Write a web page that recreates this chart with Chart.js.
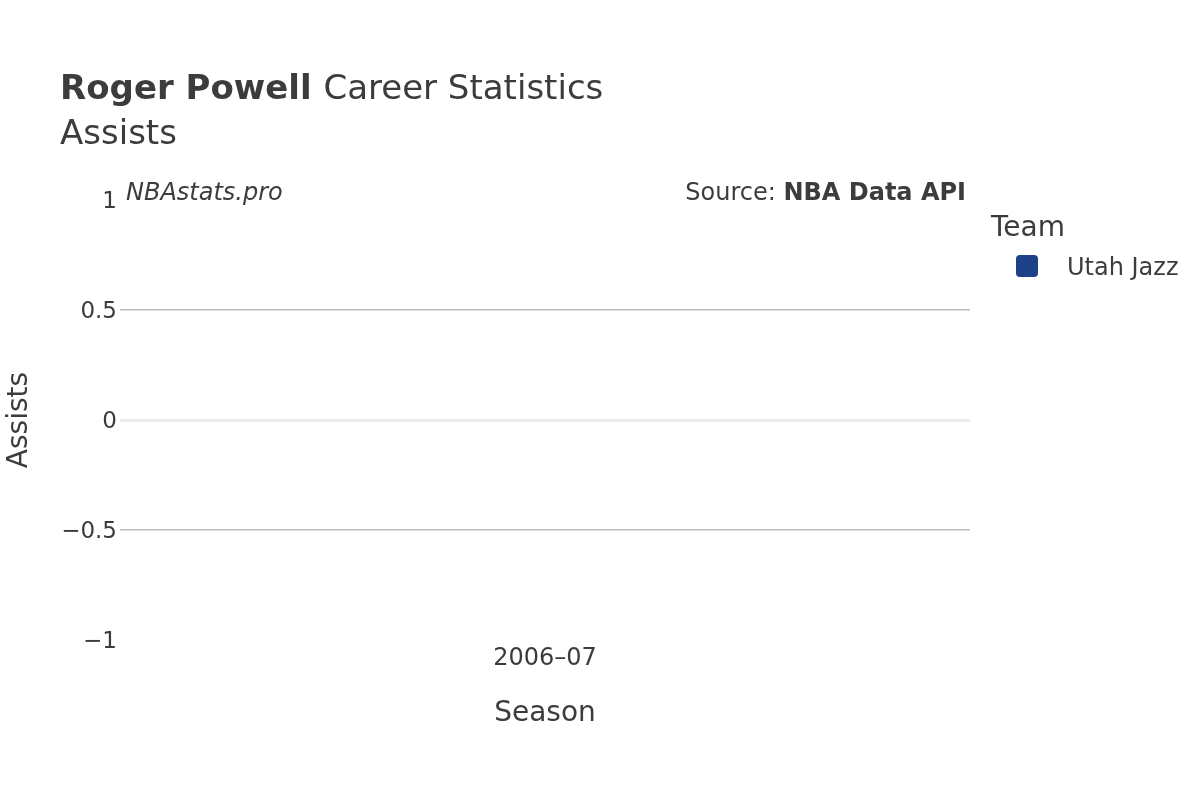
<!DOCTYPE html>
<html lang="en">
<head>
  <meta charset="UTF-8"/>
  <title>Roger Powell Career Statistics - Assists</title>
  <script src="https://cdn.jsdelivr.net/npm/chart.js"></script>
  <style>
    html, body { margin: 0; padding: 0; background: #fff; }
    #wrap { width: 1200px; height: 800px; position: relative; }
  </style>
</head>
<body>
<div id="wrap"><canvas id="chart" width="1200" height="800"></canvas></div>

<script>
  // data
  const seasons = ['2006–07'];
  const teams = ['Utah Jazz'];
  const teamColors = ['#1d428a'];
  const assists = [0];
  const yTicks = [-1, -0.5, 0, 0.5, 1];

  const FONT = '"DejaVu Sans", "Open Sans", sans-serif';
  const TEXT = '#3c3c3c';

  // titles, annotations and legend drawn around the plot
  const decor = {
    id: 'decor',
    afterDraw(chart) {
      const c = chart.ctx;
      c.save();
      c.fillStyle = TEXT;
      c.textBaseline = 'alphabetic';
      c.textAlign = 'left';

      c.font = 'bold 34px ' + FONT;
      c.fillText('Roger Powell', 60, 99);
      const w = c.measureText('Roger Powell ').width;
      c.font = '34px ' + FONT;
      c.fillText('Career Statistics', 60 + w, 99);
      c.fillText('Assists', 60, 144);

      c.font = 'italic 24px ' + FONT;
      c.fillText('NBAstats.pro', 126, 200);

      c.textAlign = 'right';
      c.font = 'bold 24px ' + FONT;
      c.fillText('NBA Data API', 966, 200);
      const bw = c.measureText('NBA Data API').width;
      c.font = '24px ' + FONT;
      c.fillText('Source: ', 966 - bw, 200);

      // axis titles
      c.textAlign = 'center';
      c.font = '28px ' + FONT;
      c.fillText('Season', 545, 721);
      c.save();
      c.translate(27, 420);
      c.rotate(-Math.PI / 2);
      c.fillText('Assists', 0, 0);
      c.restore();

      // legend
      c.textAlign = 'left';
      c.font = '28px ' + FONT;
      c.fillText('Team', 991, 236);
      chart.data.datasets.forEach((ds, i) => {
        const y = 266 + i * 30;
        c.fillStyle = ds.backgroundColor;
        c.beginPath();
        c.roundRect(1016, y - 11, 22, 22, 4);
        c.fill();
        c.fillStyle = TEXT;
        c.font = '24px ' + FONT;
        c.fillText(ds.label, 1067, y + 9);
      });
      c.restore();
    }
  };

  new Chart(document.getElementById('chart'), {
    type: 'bar',
    data: {
      labels: seasons,
      datasets: teams.map((t, i) => ({
        label: t,
        data: assists,
        backgroundColor: teamColors[i],
        borderWidth: 0,
        barPercentage: 0.8,
        categoryPercentage: 1
      }))
    },
    options: {
      responsive: false,
      animation: false,
      layout: { padding: { top: 200, right: 230, left: 0, bottom: 0 } },
      plugins: { legend: { display: false }, tooltip: { enabled: false } },
      scales: {
        x: {
          afterFit(s) { s.height = 160; },
          grid: { display: false, drawTicks: false },
          border: { display: false },
          ticks: { color: TEXT, font: { family: FONT, size: 24 }, padding: 4 }
        },
        y: {
          min: -1, max: 1,
          afterFit(s) { s.width = 120; },
          afterBuildTicks(s) { s.ticks = yTicks.map(v => ({ value: v })); },
          border: { display: false },
          grid: {
            drawTicks: false,
            color: ctx => {
              const v = ctx.tick ? ctx.tick.value : null;
              if (v === 0) return '#ececec';
              if (v === 1 || v === -1) return 'rgba(0,0,0,0)';
              return '#bdbdbd';
            },
            lineWidth: ctx => (ctx.tick && ctx.tick.value === 0 ? 3 : 1.5)
          },
          ticks: {
            color: TEXT,
            font: { family: FONT, size: 23 },
            padding: 3,
            labelOffset: 2,
            callback: v => (v < 0 ? '\u2212' + Math.abs(v) : String(v))
          }
        }
      }
    },
    plugins: [decor]
  });
</script>
</body>
</html>
